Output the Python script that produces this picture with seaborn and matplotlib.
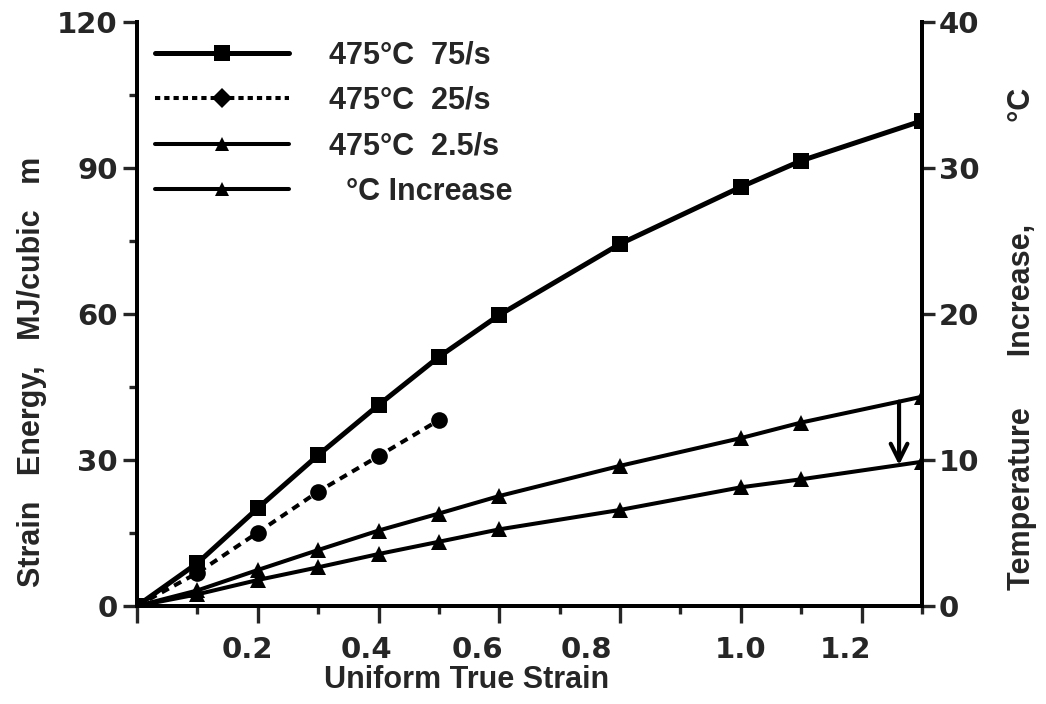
import numpy as np
import pandas as pd
import matplotlib
matplotlib.use("Agg")
import matplotlib.pyplot as plt
from matplotlib.lines import Line2D
from matplotlib.ticker import FixedLocator, NullFormatter
import seaborn as sns

# Uniform true strain at which each curve was sampled
strain_full = [0.0, 0.1, 0.2, 0.3, 0.4, 0.5, 0.6, 0.8, 1.0, 1.1, 1.3]
strain_25 = [0.0, 0.1, 0.2, 0.3, 0.4, 0.5]

# Strain energy, MJ/cubic m
energy_75 = [0.0, 8.8, 20.1, 31.0, 41.3, 51.2, 59.8, 74.4, 86.1, 91.5, 99.7]
energy_25 = [0.0, 6.8, 15.1, 23.5, 30.8, 38.2]
energy_2_5 = [0.0, 3.2, 7.4, 11.5, 15.5, 19.0, 22.6, 28.8, 34.5, 37.7, 43.0]

# Temperature increase, deg C (right axis)
temp_rise = [0.0, 0.8, 1.78, 2.65, 3.56, 4.4, 5.25, 6.58, 8.13, 8.68, 9.88]

series_labels = ["475°C  75/s", "475°C  25/s", "475°C  2.5/s", "  °C Increase"]
x_ticks = [0.0, 0.2, 0.4, 0.6, 0.8, 1.0, 1.2]
x_tick_labels = ["0.2", "0.4", "0.6", "0.8", "1.0", "1.2"]
left_ticks = [0, 30, 60, 90, 120]
right_ticks = [0, 10, 20, 30, 40]

sns.set_style("ticks")
plt.rcParams["font.family"] = ["Liberation Sans", "DejaVu Sans"]
plt.rcParams["font.weight"] = "bold"

W, H = 1046, 704
fig = plt.figure(figsize=(W / 100, H / 100), dpi=100)
ax = fig.add_axes([137 / W, 1 - 606 / H, (922 - 137) / W, (606 - 22) / H])
ax2 = ax.twinx()

lw_main = 3.6
lw_thin = 2.9

sns.lineplot(x=strain_full, y=energy_75, ax=ax, color="black", lw=lw_main,
             marker="s", markersize=11, markeredgewidth=0, legend=False)
sns.lineplot(x=strain_25, y=energy_25, ax=ax, color="black", lw=lw_thin,
             linestyle=(0, (2.0, 1.5)), marker="o", markersize=12,
             markeredgewidth=0, legend=False)
sns.lineplot(x=strain_full, y=energy_2_5, ax=ax, color="black", lw=lw_thin,
             marker="^", markersize=11, markeredgewidth=0, legend=False)
sns.lineplot(x=strain_full, y=temp_rise, ax=ax2, color="black", lw=lw_thin,
             marker="^", markersize=11, markeredgewidth=0, legend=False)

ax.set_xlim(0, 1.3)
ax.set_ylim(0, 120)
ax2.set_ylim(0, 40)

# Arrow from the 2.5/s energy curve down to the temperature curve
arrow_x = 1.262
y_top = np.interp(arrow_x, strain_full, energy_2_5)
y_bot = np.interp(arrow_x, strain_full, temp_rise) * 3.0
ax.annotate("", xy=(arrow_x, y_bot), xytext=(arrow_x, y_top),
            arrowprops=dict(arrowstyle="->", lw=3.0, color="black",
                            mutation_scale=30, shrinkA=0, shrinkB=0))

# Ticks
ax.xaxis.set_major_locator(FixedLocator(x_ticks))
ax.xaxis.set_major_formatter(NullFormatter())
ax.xaxis.set_minor_locator(FixedLocator([0.1, 0.3, 0.5, 0.7, 0.9, 1.1, 1.3]))
ax.yaxis.set_major_locator(FixedLocator(left_ticks))
ax.yaxis.set_minor_locator(FixedLocator([15, 45, 75, 105]))
ax2.yaxis.set_major_locator(FixedLocator(right_ticks))

tick_font = 21
tick_family = ["DejaVu Sans"]
ax.tick_params(axis="x", which="major", direction="out", length=12, width=2.4)
ax.tick_params(axis="x", which="minor", direction="out", length=6, width=2.4)
ax.tick_params(axis="y", which="major", direction="out", length=10, width=2.4,
               labelsize=tick_font, pad=4)
ax.tick_params(axis="y", which="minor", direction="out", length=6, width=2.4)
ax2.tick_params(axis="y", which="major", direction="out", length=9, width=2.4,
                labelsize=tick_font, pad=3)
for lab in ax.get_yticklabels() + ax2.get_yticklabels():
    lab.set_fontweight("bold")
    lab.set_family(tick_family)

# Hand-set strain labels under the axis, as lettered on the original plot
label_x = [0.182, 0.380, 0.564, 0.744, 1.000, 1.174]
xform = ax.get_xaxis_transform()
for xv, txt in zip(label_x, x_tick_labels):
    ax.text(xv, -44 / 584, txt, transform=xform, ha="center", va="center",
            fontsize=tick_font, fontweight="bold", family=tick_family)

for a in (ax, ax2):
    for side, sp in a.spines.items():
        sp.set_linewidth(2.8)
        sp.set_color("black")
    a.spines["top"].set_visible(False)

label_font = 22
fig.text(467 / W, 1 - 680 / H, "Uniform True Strain", fontsize=label_font,
         fontweight="bold", ha="center", va="center")
fig.text(32 / W, 1 - 372 / H, "Strain   Energy,   MJ/cubic   m", fontsize=label_font,
         fontweight="bold", ha="center", va="center", rotation=90)
fig.text(1022 / W, 1 - 590 / H, "Temperature      Increase," + " " * 12 + "°C",
         fontsize=label_font, fontweight="bold", ha="center", va="bottom", rotation=90)

handles = [
    Line2D([], [], color="black", lw=lw_main, marker="s", markersize=11, markeredgewidth=0),
    Line2D([], [], color="black", lw=lw_thin, linestyle=(0, (1.3, 1.0)), marker="D",
           markersize=10, markeredgewidth=0),
    Line2D([], [], color="black", lw=lw_thin, marker="^", markersize=10, markeredgewidth=0),
    Line2D([], [], color="black", lw=lw_thin, marker="^", markersize=10, markeredgewidth=0),
]
leg = ax.legend(handles, series_labels, loc="upper left",
                bbox_to_anchor=(18 / 785, 0.968), borderaxespad=0, borderpad=0,
                frameon=False, fontsize=label_font, handlelength=4.4, handletextpad=1.3,
                labelspacing=0.5, numpoints=1)
for t in leg.get_texts():
    t.set_fontweight("bold")

fig.savefig("out.png", dpi=100, facecolor="white")
